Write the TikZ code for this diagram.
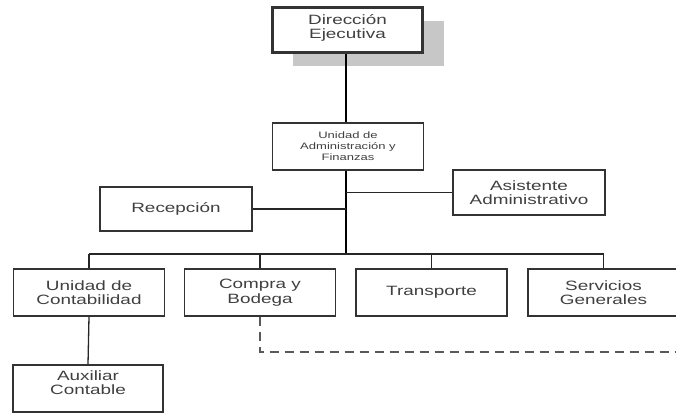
\documentclass[tikz,border=0pt]{standalone}
\usepackage{fontspec}
\setmainfont[FakeStretch=1.4]{Liberation Sans}
\begin{document}
\begin{tikzpicture}[x=1pt,y=-1pt,
  box/.style={draw=black!80, line width=1.3pt, fill=white, align=center, inner sep=0pt,
     minimum width=151pt, minimum height=47pt, text=black!75, font=\fontsize{13.5}{14.5}\selectfont},
  link/.style={line width=1.3pt, draw=black!85},
  trunk/.style={line width=2.8pt, draw=black}]
\useasboundingbox (0,0) rectangle (676,414);
\clip (0,0) rectangle (676,414);
\fill[black!22] (293,21) rectangle (444,66);
\node[box, line width=3pt, minimum width=150pt, minimum height=45pt, font=\fontsize{13.5}{14}\selectfont] (dir) at (347.5,30.5) {Dirección\\Ejecutiva\\[-6pt]{}};
\node[box, font=\fontsize{9.3}{11}\selectfont] (adm) at (348,146.5) {Unidad de\\Administración y\\Finanzas};
\node[box, minimum width=152pt, minimum height=44pt] (rec) at (176,209) {Recepción};
\node[box, minimum width=152pt, minimum height=45pt] (asi) at (529,192.5) {Asistente\\Administrativo};
\node[box] (con) at (89,292.5) {Unidad de\\Contabilidad};
\node[box] (com) at (260,292.5) {Compra y\\Bodega};
\node[box] (tra) at (431.5,292.5) {Transporte};
\node[box] (ser) at (603.5,292.5) {Servicios\\Generales};
\node[box, minimum width=150pt] (aux) at (88,388.5) {Auxiliar\\Contable\\[-3pt]{}};
\coordinate (bus) at (346,254);
\coordinate (dend) at (676,352);
\draw[trunk] (dir.south -| bus) -- (adm.north -| bus);
\draw[trunk] (adm.south -| bus) -- (bus);
\draw[link] (rec.east) -- (rec.east -| bus);
\draw[link] (asi.west) -- (asi.west -| bus);
\draw[link, line width=1.6pt] (con.north |- bus) -- (ser.north |- bus);
\foreach \n in {con,com,tra,ser} \draw[link] (\n.north |- bus) -- (\n.north);
\draw[link] (con.south) -- (aux.north);
\draw[link, draw=black!65, dash pattern=on 9pt off 6pt] (com.south) -- (com.south |- dend) -- (dend);
\end{tikzpicture}
\end{document}
